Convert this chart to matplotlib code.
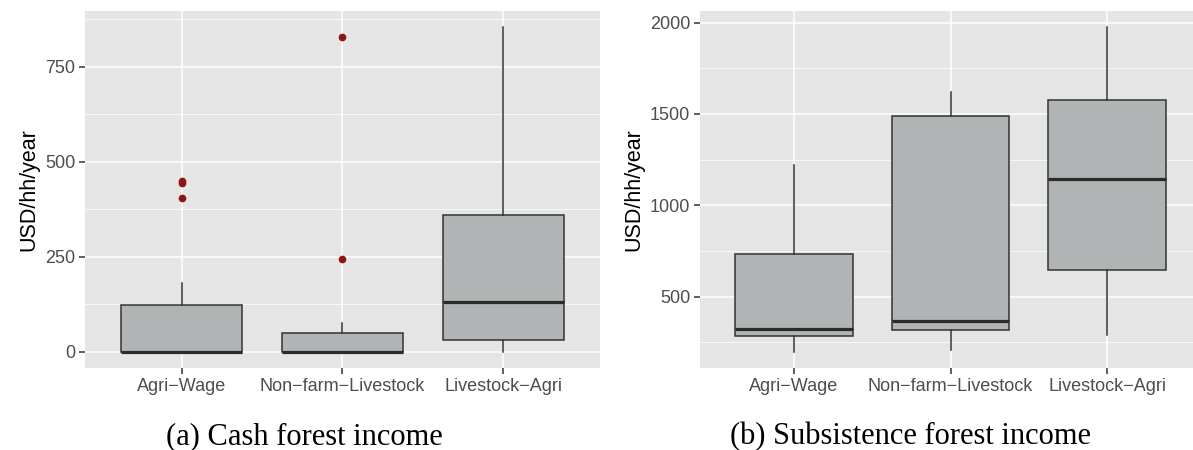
import numpy as np
import matplotlib.pyplot as plt
from matplotlib.ticker import MultipleLocator

groups = ["Agri\u2212Wage", "Non\u2212farm\u2212Livestock", "Livestock\u2212Agri"]

# cash forest income (USD/hh/year): box summary per livelihood group
cash_whislo = [0, 0, 0]
cash_q1 = [0, 0, 30]
cash_med = [0, 0, 130]
cash_q3 = [122, 50, 360]
cash_whishi = [180, 75, 855]
cash_fliers = [[450, 445, 405], [243, 828], []]

# subsistence forest income (USD/hh/year)
subs_whislo = [198, 207, 291]
subs_q1 = [286, 318, 643]
subs_med = [324, 367, 1143]
subs_q3 = [735, 1487, 1575]
subs_whishi = [1223, 1620, 1975]
subs_fliers = [[], [], []]

plt.rcParams['font.family'] = ['Liberation Sans', 'DejaVu Sans']

fig = plt.figure(figsize=(11.93, 4.5), dpi=100)
ax1 = fig.add_axes([0.0712, 0.1822, 0.4317, 0.7934])
ax2 = fig.add_axes([0.5868, 0.1822, 0.4200, 0.7934])


def draw(ax, lo, q1, med, q3, hi, fl, ylim, major, minor):
    stats = []
    for i in range(3):
        stats.append(dict(whislo=lo[i], q1=q1[i], med=med[i], q3=q3[i],
                          whishi=hi[i], fliers=fl[i]))
    ax.set_facecolor('#E5E5E5')
    ax.set_axisbelow(True)
    ax.yaxis.set_major_locator(MultipleLocator(major))
    ax.yaxis.set_minor_locator(MultipleLocator(minor))
    ax.grid(which='major', color='white', linewidth=1.1)
    ax.grid(which='minor', axis='y', color='white', linewidth=0.55)
    ax.bxp(stats, positions=[1, 2, 3], widths=0.75, patch_artist=True,
           showcaps=False,
           boxprops=dict(facecolor='#B1B4B5', edgecolor='#333333', linewidth=1.1),
           medianprops=dict(color='#2B2B2B', linewidth=2.3),
           whiskerprops=dict(color='#333333', linewidth=1.1),
           flierprops=dict(marker='o', markersize=4.5, markerfacecolor='#8E1414',
                           markeredgecolor='#8E1414'))
    ax.set_xlim(0.4, 3.6)
    ax.set_ylim(*ylim)
    ax.set_xticks([1, 2, 3])
    ax.set_xticklabels(groups)
    for s in ax.spines.values():
        s.set_visible(False)
    ax.tick_params(which='major', length=4, color='#333333', width=1.1,
                   labelcolor='#4D4D4D', labelsize=13, pad=3)
    ax.tick_params(which='minor', length=0)
    ax.set_ylabel('USD/hh/year', fontsize=15.5, color='black', labelpad=4)


draw(ax1, cash_whislo, cash_q1, cash_med, cash_q3, cash_whishi, cash_fliers,
     (-43, 897), 250, 125)
draw(ax2, subs_whislo, subs_q1, subs_med, subs_q3, subs_whishi, subs_fliers,
     (109, 2064), 500, 250)

# sub-figure captions
fig.text(0.255, 0.0135, '(a) Cash forest income', ha='center', va='baseline',
         family='Liberation Serif', fontsize=22)
fig.text(0.763, 0.0135, '(b) Subsistence forest income', ha='center', va='baseline',
         family='Liberation Serif', fontsize=22)

fig.savefig('out.png', dpi=100)
